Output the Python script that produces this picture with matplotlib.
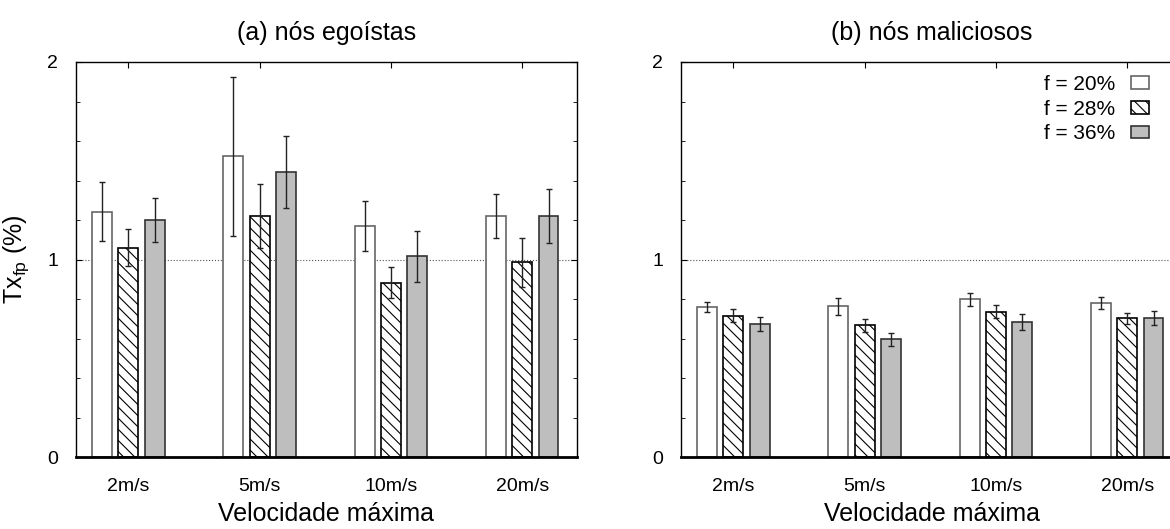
import numpy as np
import matplotlib
matplotlib.use('Agg')
import matplotlib.pyplot as plt
from matplotlib.ticker import MultipleLocator

plt.rcParams['font.family'] = ['Liberation Sans', 'DejaVu Sans']
plt.rcParams['mathtext.fontset'] = 'custom'
plt.rcParams['mathtext.rm'] = 'Liberation Sans'
plt.rcParams['mathtext.it'] = 'Liberation Sans'
plt.rcParams['hatch.linewidth'] = 0.8

speeds = ['2m/s', '5m/s', '10m/s', '20m/s']
seriesLabels = ['f = 20%', 'f = 28%', 'f = 36%']

## (a) selfish nodes
selfishMean = [[1.243, 1.523, 1.168, 1.222],
	[1.060, 1.222, 0.882, 0.985],
	[1.199, 1.442, 1.016, 1.220]]
selfishErr = [[0.148, 0.403, 0.127, 0.111],
	[0.094, 0.162, 0.079, 0.124],
	[0.111, 0.182, 0.128, 0.137]]

## (b) malicious nodes
maliciousMean = [[0.761, 0.764, 0.798, 0.778],
	[0.715, 0.666, 0.735, 0.702],
	[0.673, 0.595, 0.683, 0.705]]
maliciousErr = [[0.025, 0.043, 0.034, 0.031],
	[0.032, 0.033, 0.033, 0.027],
	[0.036, 0.032, 0.041, 0.036]]

faces = ['white', 'white', '#bebebe']
edges = ['#666666', 'black', '#333333']
hatches = [None, '\\\\\\', None]

fig = plt.figure(figsize=(11.7, 5.29), dpi=100)
axLeft = fig.add_axes([76/1170, 72/529, 501/1170, 395/529])
axRight = fig.add_axes([681/1170, 72/529, 501/1170, 395/529])

def drawPanel(ax, means, errs, title):
	x = np.arange(len(speeds))
	ax.axhline(1, color='#555555', linestyle=':', linewidth=0.8, zorder=0)
	for i in range(3):
		ax.bar(x + (i - 1) * 0.2, means[i], width=0.152, color=faces[i], edgecolor=edges[i],
			hatch=hatches[i], linewidth=1.2, label=seriesLabels[i], zorder=2)
		ax.errorbar(x + (i - 1) * 0.2, means[i], yerr=errs[i], fmt='none', ecolor='#222222',
			elinewidth=1.0, capsize=2, capthick=1.0, zorder=3)
	ax.set_xlim(-0.398, 3.417)
	ax.set_ylim(0, 2)
	ax.set_xticks(x)
	ax.set_xticklabels(speeds, fontsize=14)
	ax.set_yticks([0, 1, 2])
	ax.set_yticklabels(['0', '1', '2'], fontsize=14)
	ax.yaxis.set_minor_locator(MultipleLocator(0.2))
	ax.tick_params(axis='x', which='both', direction='in', top=True, bottom=False, length=4, pad=15)
	ax.tick_params(axis='y', which='major', direction='in', left=True, right=True, length=4, pad=13)
	ax.tick_params(axis='y', which='minor', direction='in', left=True, right=True, length=3)
	for side in ['left', 'right', 'top']:
		ax.spines[side].set_linewidth(1.0)
	ax.spines['bottom'].set_linewidth(2.0)
	ax.set_xlabel('Velocidade máxima', fontsize=18)
	ax.xaxis.set_label_coords(0.5, -0.113)
	ax.set_title(title, fontsize=18, pad=16)

drawPanel(axLeft, selfishMean, selfishErr, '(a) nós egoístas')
drawPanel(axRight, maliciousMean, maliciousErr, '(b) nós maliciosos')

axLeft.set_ylabel(r'Tx$_{\mathrm{fp}}$ (%)', fontsize=18)
axLeft.yaxis.set_label_coords(-0.09, 0.5)

axRight.legend(loc='upper right', bbox_to_anchor=(0.935, 0.967), frameon=False, markerfirst=False,
	fontsize=15, handlelength=0.9, handleheight=0.55, handletextpad=0.75, labelspacing=0.27,
	borderaxespad=0, borderpad=0)

plt.savefig('out.png', dpi=100)
